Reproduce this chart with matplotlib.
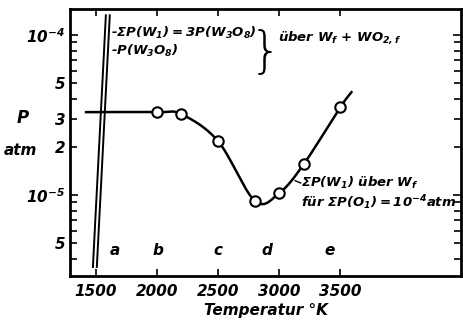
import numpy as np
import matplotlib
matplotlib.use("Agg")
import matplotlib.pyplot as plt

# measured points of sum P(W1) over W,f  (T in K, P in atm)
temp = [2000, 2200, 2500, 2800, 3000, 3200, 3500]
pres = [3.3e-5, 3.2e-5, 2.17e-5, 9.2e-6, 1.03e-5, 1.56e-5, 3.55e-5]
# ends of the drawn curve (no markers)
curve_start = (1420, 3.3e-5)
curve_end = (3590, 4.4e-5)

# the two steep lines P(W3O8) and sum P(W1)=3P(W3O8)
steep_T0 = [1476, 1508]
steep_T1 = [1582, 1614]
steep_P = [3.55e-6, 1.33e-4]

xticks = [1500, 2000, 2500, 3000, 3500]
region_T = [1655, 2006, 2495, 2895, 3409]
region_lab = ["a", "b", "c", "d", "e"]

plt.rcParams["mathtext.fontset"] = "custom"
plt.rcParams["mathtext.rm"] = "DejaVu Sans:italic:bold"
plt.rcParams["mathtext.it"] = "DejaVu Sans:italic:bold"
plt.rcParams["mathtext.bf"] = "DejaVu Sans:italic:bold"

FONT = dict(family=["DejaVu Sans"], style="italic", weight="bold")


def catmull(xs, ys, n=30):
    # smooth line through the points, done in log(P)
    xs = np.asarray(xs, float)
    ys = np.log10(np.asarray(ys, float))
    px = np.r_[2 * xs[0] - xs[1], xs, 2 * xs[-1] - xs[-2]]
    py = np.r_[2 * ys[0] - ys[1], ys, 2 * ys[-1] - ys[-2]]
    ox, oy = [], []
    for i in range(1, len(px) - 2):
        t = np.linspace(0, 1, n)
        for arr, out in ((px, ox), (py, oy)):
            p0, p1, p2, p3 = arr[i - 1:i + 3]
            out.extend(0.5 * (2 * p1 + (-p0 + p2) * t + (2 * p0 - 5 * p1 + 4 * p2 - p3) * t ** 2
                              + (-p0 + 3 * p1 - 3 * p2 + p3) * t ** 3))
    return np.array(ox), 10 ** np.array(oy)


fig = plt.figure(figsize=(4.63, 3.27), dpi=100)
ax = fig.add_axes([0.151, 0.156, 0.845, 0.816])
ax.set_yscale("log")

cx, cy = catmull([curve_start[0]] + temp + [curve_end[0]],
                 [curve_start[1]] + pres + [curve_end[1]])
ax.plot(cx, cy, color="black", lw=1.8, zorder=2)
ax.plot(temp, pres, "o", ms=7.5, mfc="white", mec="black", mew=1.5, zorder=3)

for t0, t1 in zip(steep_T0, steep_T1):
    ax.plot([t0, t1], steep_P, color="black", lw=1.4)

for s in ax.spines.values():
    s.set_linewidth(2)

ax.set_xticks(xticks)
ax.set_xticklabels([str(t) for t in xticks], fontdict=FONT, fontsize=11)
ax.tick_params(axis="x", direction="in", length=5, width=1.2, top=True, pad=6)
ax.set_yticks([1e-5, 1e-4])
ax.set_yticklabels([r"$10^{-5}$", r"$10^{-4}$"], fontdict=FONT, fontsize=11)
minor = [m * 10.0 ** e for e in (-6, -5) for m in range(4, 10)] + \
        [m * 1e-5 for m in (2, 3)]
minor = sorted(minor)
minor_lab = {5e-6: "5", 2e-5: "2", 3e-5: "3", 5e-5: "5"}
ax.set_yticks(minor, minor=True)
ax.set_yticklabels([next((v for k, v in minor_lab.items() if abs(k - m) < 1e-9), "")
                    for m in minor], minor=True, fontdict=FONT, fontsize=11)
ax.tick_params(axis="y", which="major", direction="in", length=6, width=1.2, right=True)
ax.tick_params(axis="y", which="minor", direction="in", length=5, width=1.2, right=True)

# limits after the ticks, set_yticks would widen them
ax.set_xlim(1288, 4487)
ax.set_ylim(10 ** -5.506, 10 ** -3.8375)

ax.set_xlabel("Temperatur °K", fontdict=FONT, fontsize=11, labelpad=3)
fig.text(0.05, 0.625, "P", fontdict=FONT, fontsize=12, ha="center")
fig.text(0.045, 0.525, "atm", fontdict=FONT, fontsize=11, ha="center")

for t, lab in zip(region_T, region_lab):
    ax.text(t, 4.53e-6, lab, fontdict=FONT, fontsize=11, ha="center", va="center")

ax.text(1625, 1.03e-4, r"-$\Sigma P(W_1)=3P(W_3O_8)$", fontdict=FONT, fontsize=9.5,
        va="center")
ax.text(1620, 8.0e-5, r"-$P(W_3O_8)$", fontdict=FONT, fontsize=9.5, va="center")
ax.text(2760, 7.7e-5, "}", fontsize=36, va="center", ha="left",
        family="DejaVu Sans", fontweight="light")
ax.text(2990, 9.7e-5, r"über W$_f$ + WO$_{2,f}$", fontdict=FONT, fontsize=9.5, va="center")
ax.text(3180, 1.19e-5, r"$\Sigma P(W_1)$ über W$_f$", fontdict=FONT, fontsize=9.5, va="center")
ax.text(3180, 9.0e-6, r"für $\Sigma P(O_1)=10^{-4}$atm", fontdict=FONT, fontsize=9.5,
        va="center")
ax.plot([3130, 3175], [1.23e-5, 1.19e-5], color="black", lw=1)

fig.savefig("out.png", dpi=100)
